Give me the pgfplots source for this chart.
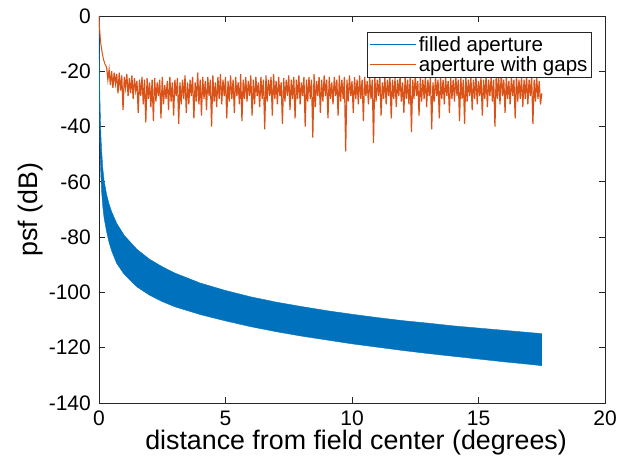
\documentclass[border=0pt]{standalone}
\usepackage{fontspec}
\setmainfont{Liberation Sans}
\usepackage{pgfplots}
\pgfplotsset{compat=1.18}
\definecolor{mblue}{RGB}{0,114,189}
\definecolor{morange}{RGB}{217,83,25}
\definecolor{axcol}{RGB}{38,38,38}
\begin{document}
\begin{tikzpicture}
\begin{axis}[
  scale only axis, width=506pt, height=387pt,
  at={(0pt,0pt)}, anchor=south west,
  xmin=0, xmax=20, ymin=-140, ymax=0,
  xtick={0,5,10,15,20}, ytick={-140,-120,-100,-80,-60,-40,-20,0},
  /pgf/number format/assume math mode=true,
  tick align=inside, major tick length=6pt,
  axis line style={draw=axcol, line width=0.8pt},
  every tick/.style={draw=axcol, line width=0.8pt},
  tick label style={font=\fontsize{21}{24}\selectfont, text=black, inner sep=0pt},
  xticklabel style={yshift=-8pt},
  yticklabel style={xshift=-8pt},
  xlabel={distance from field center (degrees)},
  ylabel={psf (dB)},
  label style={font=\fontsize{26.8}{29}\selectfont},
  xlabel style={at={(axis description cs:0.508,-0.1214)}, anchor=base},
  ylabel style={at={(axis description cs:-0.1225,0.5)}, anchor=base},
  legend cell align=left,
  legend style={at={(0.974,0.959)}, anchor=north east, draw=axcol, line width=0.8pt, fill=white,
    font=\fontsize{20.5}{22}\selectfont, inner sep=2pt, row sep=0pt},
  legend image code/.code={\draw[#1, line width=1.1pt] (0pt,0pt) -- (46pt,0pt);},
]
\addplot[draw=mblue, fill=mblue, line width=0.4pt, forget plot] coordinates {
(0,0) (0.01,-12) (0.02,-20) (0.035,-29) (0.05,-35) (0.075,-43) (0.1,-48) (0.15,-55) (0.2,-59.5)
(0.3,-64.5) (0.4,-68.1) (0.5,-70.8) (0.7,-75.0) (1,-79.4) (1.5,-84.4) (2,-88.0) (2.5,-90.7)
(3,-93.0) (4,-96.6) (5,-99.3) (6,-101.6) (7,-103.5) (8,-105.1) (9,-106.6) (10,-107.9)
(11,-109.1) (12,-110.2) (13,-111.1) (14,-112.1) (15,-112.9) (16,-113.7) (17,-114.5) (17.5,-114.9)
(17.5,-126.5) (17,-126) (16,-125.1) (15,-124.1) (14,-123.1) (13,-122.1) (12,-121) (11,-119.8)
(10,-118.6) (9,-117.2) (8,-115.8) (7,-114.2) (6,-112.4) (5,-110.3) (4,-108) (3,-105.2)
(2.5,-103.3) (2,-101) (1.5,-98) (1,-93.5) (0.7,-89.5) (0.5,-85) (0.4,-82) (0.3,-78)
(0.2,-73) (0.15,-69) (0.1,-63) (0.075,-58) (0.05,-52) (0.035,-45) (0.02,-35) (0.01,-20) (0,0)
};
\addplot[morange, line width=1pt, forget plot] coordinates {
(0,0) (0.02,-4) (0.05,-8) (0.08,-10.5) (0.12,-13) (0.18,-15.8) (0.24,-17.5) (0.3,-18.5)
};
\addplot[morange, line width=1.2pt, forget plot] table[x expr=0.3+\coordindex*0.05, y index=0, row sep=\\] {
-18.5\\ -23\\ -19.5\\ -25\\ -20\\ -26\\ -20.5\\ -24.5\\ -21\\ -28\\
-20.5\\ -27\\ -21.5\\ -34\\ -22\\ -26\\ -21\\ -29\\ -22.5\\ -28\\
-21.5\\ -30\\ -22.5\\ -27\\ -23.5\\ -35\\ -23\\ -29\\ -22\\ -32\\
-23\\ -38.5\\ -22.5\\ -30\\ -24\\ -33\\ -23\\ -38\\ -22.5\\ -31\\
-24\\ -29\\ -23\\ -37\\ -22\\ -32\\ -25\\ -30\\ -23.5\\ -34\\
-22\\ -31\\ -24\\ -36\\ -23\\ -29\\ -22.5\\ -39\\ -24\\ -32\\
-23\\ -30\\ -21.5\\ -35\\ -24\\ -32\\ -23\\ -29\\ -22\\ -37\\
-24\\ -31\\ -20.5\\ -32\\ -23\\ -36\\ -22\\ -30\\ -23.5\\ -34\\
-22\\ -29\\ -23\\ -40\\ -21.5\\ -31\\ -24\\ -33\\ -22\\ -30\\
-21\\ -32\\ -23\\ -29\\ -22\\ -37\\ -23.5\\ -31\\ -21.5\\ -30\\
-23\\ -35\\ -22\\ -29\\ -24\\ -32\\ -21\\ -38\\ -23\\ -30\\
-22\\ -31\\ -23.5\\ -29\\ -21.5\\ -36\\ -23\\ -32\\ -22\\ -29\\
-24\\ -33\\ -22\\ -30\\ -23\\ -41\\ -21.5\\ -31\\ -23\\ -29\\
-22\\ -36\\ -21\\ -30\\ -23.5\\ -32\\ -22\\ -29\\ -24\\ -39\\
-22.5\\ -31\\ -23\\ -29\\ -21.5\\ -34\\ -23\\ -30\\ -22\\ -37\\
-23\\ -30\\ -21.5\\ -32\\ -24\\ -29\\ -22\\ -40\\ -23\\ -31\\
-22\\ -30\\ -23\\ -44\\ -21\\ -33\\ -23.5\\ -29\\ -22\\ -35\\
-23\\ -31\\ -21.5\\ -29\\ -23\\ -37\\ -22\\ -30\\ -24\\ -32\\
-22\\ -29\\ -23\\ -36\\ -21.5\\ -31\\ -23\\ -30\\ -22\\ -49\\
-23\\ -31\\ -21.5\\ -29\\ -23.5\\ -35\\ -22\\ -30\\ -23\\ -32\\
-21.5\\ -30\\ -23\\ -38\\ -22\\ -29\\ -23.5\\ -32\\ -22\\ -30\\
-23\\ -46\\ -21.5\\ -31\\ -23\\ -29\\ -22\\ -36\\ -24\\ -30\\
-22\\ -32\\ -23\\ -29\\ -21.5\\ -37\\ -23\\ -30\\ -22.5\\ -33\\
-23\\ -29\\ -21.5\\ -31\\ -24\\ -35\\ -22\\ -30\\ -23\\ -32\\
-22\\ -42\\ -23\\ -30\\ -21.5\\ -29\\ -23.5\\ -36\\ -22\\ -31\\
-23\\ -30\\ -21.5\\ -33\\ -23\\ -29\\ -22\\ -41\\ -24\\ -31\\
-22\\ -29\\ -23\\ -37\\ -21.5\\ -30\\ -23\\ -32\\ -22\\ -29\\
-23.5\\ -35\\ -22\\ -30\\ -23\\ -31\\ -21.5\\ -29\\ -23\\ -38\\
-22\\ -30\\ -23\\ -39\\ -21.5\\ -31\\ -23\\ -29\\ -22\\ -34\\
-23\\ -30\\ -21.5\\ -32\\ -23.5\\ -29\\ -22\\ -36\\ -23\\ -30\\
-21.5\\ -33\\ -23\\ -29\\ -22\\ -31\\ -23\\ -40\\ -21\\ -30\\
-22\\ -32\\ -20.5\\ -29\\ -23\\ -35\\ -22\\ -30\\ -23.5\\ -32\\
-22\\ -29\\ -23\\ -37\\ -21.5\\ -31\\ -23\\ -30\\ -22\\ -33\\
-23\\ -30\\ -21.5\\ -32\\ -23\\ -29\\ -22\\ -39\\ -23\\ -31\\
-22\\ -30\\ -23.5\\ -32\\ -28\\
};
\addlegendimage{mblue}
\addlegendentry{filled aperture}
\addlegendimage{morange}
\addlegendentry{aperture with gaps}
\end{axis}
\pgfresetboundingbox
\path[use as bounding box] (-99pt,-59pt) rectangle (521pt,403pt);
\end{tikzpicture}
\end{document}
